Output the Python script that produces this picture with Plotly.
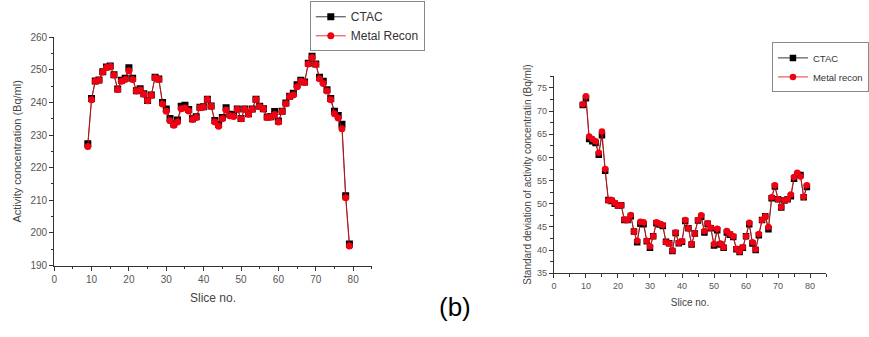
import plotly.graph_objects as go

slices = list(range(9, 80))

ctac_act = [227.3, 241.2, 246.6, 246.9, 249.4, 250.9, 251.2, 248.5, 244.1, 246.8,
            247.4, 250.6, 247.4, 243.6, 244.2, 242.7, 240.6, 242.3, 247.7, 247.2,
            240.0, 238.0, 235.1, 233.4, 234.6, 238.8, 239.1, 237.8, 235.0, 235.6,
            238.5, 238.7, 241.0, 238.9, 234.5, 233.2, 235.4, 238.4, 236.4, 236.2,
            238.0, 235.1, 238.0, 236.5, 238.0, 241.0, 238.8, 238.1, 235.5, 235.6,
            237.2, 234.3, 237.3, 239.8, 241.9, 242.8, 245.4, 246.8, 246.3, 252.0,
            254.2, 251.8, 247.7, 246.5, 243.9, 241.2, 237.3, 236.0, 233.3, 211.4,
            196.6]
mr_act = [226.5, 240.8, 246.5, 246.8, 249.3, 250.7, 251.0, 248.4, 244.0, 246.5,
          247.0, 249.7, 247.0, 243.5, 243.8, 242.5, 240.5, 242.2, 247.6, 247.0,
          239.5, 237.3, 234.4, 233.0, 234.0, 238.1, 238.3, 237.4, 234.8, 235.4,
          238.4, 238.6, 240.9, 238.8, 234.0, 232.7, 235.0, 237.7, 235.9, 235.7,
          237.9, 235.0, 237.9, 236.4, 237.9, 240.9, 238.7, 238.0, 235.4, 235.5,
          236.3, 234.0, 237.2, 239.6, 241.8, 242.3, 244.8, 246.5, 246.1, 251.8,
          253.8, 251.6, 247.3, 245.8, 243.5, 240.8, 236.5, 235.2, 231.9, 210.8,
          196.0]

ctac_sd = [71.3, 72.8, 64.0, 63.5, 63.1, 60.6, 64.8, 57.1, 50.8, 50.6,
           50.0, 49.6, 49.7, 46.5, 46.5, 47.3, 44.0, 41.7, 45.7, 45.6,
           41.9, 40.5, 43.0, 45.8, 45.5, 45.2, 41.8, 41.5, 39.8, 43.7,
           41.5, 41.8, 46.3, 44.7, 41.2, 43.6, 46.4, 47.2, 43.8, 45.7,
           44.7, 41.0, 44.3, 41.2, 40.5, 43.8, 43.3, 42.8, 40.2, 39.6,
           40.5, 43.0, 45.6, 41.4, 40.0, 43.2, 46.5, 47.3, 44.5, 51.2,
           53.7, 51.0, 49.2, 50.7, 51.0, 51.6, 55.4, 56.3, 56.2, 51.4,
           53.6]
mr_sd = [71.5, 73.2, 64.5, 64.0, 63.5, 61.0, 65.6, 57.5, 50.7, 50.8,
         50.2, 49.6, 49.7, 46.6, 46.5, 47.6, 44.0, 42.0, 46.1, 46.0,
         42.0, 40.8, 43.0, 46.0, 45.7, 45.4, 41.7, 41.4, 39.9, 43.8,
         41.6, 41.9, 46.5, 44.7, 41.3, 43.6, 46.5, 47.5, 44.1, 45.8,
         44.8, 41.3, 44.6, 41.4, 40.6, 44.1, 43.5, 43.0, 40.3, 39.7,
         40.6, 43.0, 45.9, 41.7, 40.2, 43.5, 46.5, 47.3, 45.0, 51.4,
         54.0, 51.0, 49.3, 50.7, 51.0, 52.0, 55.8, 56.7, 55.9, 51.5,
         54.0]

W, H = 869, 337
FONT = "Liberation Sans, Arial, sans-serif"
AX = "#333333"
TXT = "#555555"

fig = go.Figure()

def add_pair(x, yc, ym, xa, ya, leg, mr_name, ms):
    fig.add_trace(go.Scatter(x=x, y=yc, mode="lines+markers", name="CTAC",
                             line=dict(color="black", width=0.8),
                             marker=dict(symbol="square", size=ms, color="black"),
                             xaxis=xa, yaxis=ya, legend=leg))
    fig.add_trace(go.Scatter(x=x, y=ym, mode="lines+markers", name=mr_name,
                             line=dict(color="#e8000a", width=0.8),
                             marker=dict(symbol="circle", size=ms, color="#f00010"),
                             xaxis=xa, yaxis=ya, legend=leg))

add_pair(slices, ctac_act, mr_act, "x", "y", "legend", "Metal Recon", 7)
add_pair(slices, ctac_sd, mr_sd, "x2", "y2", "legend2", "Metal recon", 6.5)

def axis_style(fs, dom, rng, dtick, mdtick, title, tfs, standoff, anchor):
    return dict(domain=dom, range=rng, dtick=dtick, tick0=0, anchor=anchor,
                showgrid=False, zeroline=False, showline=True, linecolor=AX, linewidth=1,
                ticks="outside", ticklen=4, tickcolor=AX, tickwidth=1,
                minor=dict(ticks="outside", ticklen=2.5, dtick=mdtick, tickcolor=AX, showgrid=False),
                tickfont=dict(family=FONT, size=fs, color=TXT),
                title=dict(text=title, font=dict(family=FONT, size=tfs, color="#444444"), standoff=standoff))

fig.update_layout(
    width=W, height=H, margin=dict(l=0, r=0, t=0, b=0),
    plot_bgcolor="white", paper_bgcolor="white",
    xaxis=axis_style(10, [51.7 / W, 372.7 / W], [0, 85], 10, 5, "Slice no.", 12, 10, "y"),
    yaxis=axis_style(10, [1 - 269.3 / H, 1 - 33.3 / H], [190, 260], 10, 5,
                     "Activity concentration (Bq/ml)", 11, 6, "x"),
    xaxis2=axis_style(9, [556.7 / W, 831.7 / W], [0, 85], 10, 5, "Slice no.", 10, 8, "y2"),
    yaxis2=axis_style(9, [1 - 277.3 / H, 1 - 73.3 / H], [35, 77.6], 5, 2.5,
                      "Standard deviation of activity concentratin (Bq/ml)", 10, 3, "x2"),
    legend=dict(x=310 / W, y=1 - 22 / H, xanchor="left", yanchor="middle",
                bordercolor="#888888", borderwidth=1, bgcolor="white",
                font=dict(family=FONT, size=12, color="#333333"),
                tracegroupgap=0, itemwidth=30),
    legend2=dict(x=777 / W, y=1 - 64.5 / H, xanchor="left", yanchor="middle",
                 bordercolor="#888888", borderwidth=1, bgcolor="white",
                 font=dict(family=FONT, size=9.5, color="#333333"),
                 tracegroupgap=0, itemwidth=30),
    showlegend=True,
)
fig.add_annotation(text="(b)", x=456.7 / W, y=1 - 311.7 / H, xref="paper", yref="paper",
                   showarrow=False, font=dict(family=FONT, size=26, color="black"),
                   xanchor="center", yanchor="middle")

fig.write_html("out.html")
